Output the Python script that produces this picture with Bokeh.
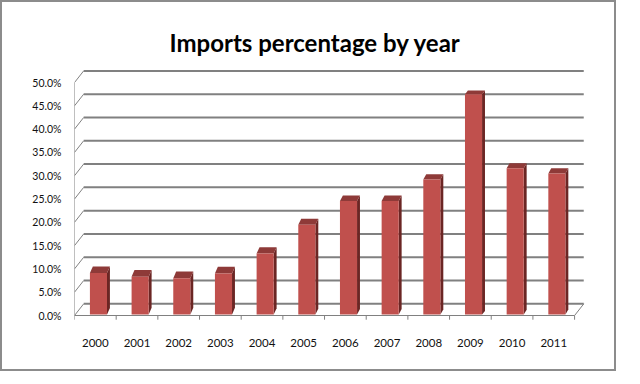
from bokeh.plotting import figure
from bokeh.models import FixedTicker, PrintfTickFormatter, Range1d
from bokeh.embed import file_html
from bokeh.resources import INLINE

# ---- data ----
years = ["2000", "2001", "2002", "2003", "2004", "2005",
         "2006", "2007", "2008", "2009", "2010", "2011"]
values = [8.9, 8.1, 7.8, 8.8, 13.1, 19.3, 24.4, 24.4, 29.0, 47.3, 31.4, 30.3]
y_ticks = [0, 5, 10, 15, 20, 25, 30, 35, 40, 45, 50]

# ---- 3D styling constants ----
DX, DY = 0.22, 2.5          # depth offset of back wall (x units, % units)
BAR_L, BAR_R = 0.37, 0.78   # bar front face within category
BAR_BASE = 0.2
SIDE_DX = 0.07
PX_PER_PCT = 4.66
N = len(years)

FRONT = "#C0504D"
TOP = "#8E3A38"
SIDE = "#6B2624"
GRID = "#808080"

p = figure(frame_width=518, frame_height=260,
           x_range=Range1d(0, 12.43), y_range=Range1d(-1.5, 54.3),
           output_backend="svg", toolbar_location=None,
           min_border_left=72, min_border_right=22,
           min_border_top=60, min_border_bottom=47)
p.outline_line_color = None
p.xgrid.visible = False
p.ygrid.visible = False
p.styles = {"border": "2px solid #8c8c8c"}

# back wall gridlines
p.segment(x0=[DX] * len(y_ticks), y0=[v + DY for v in y_ticks],
          x1=[N + DX] * len(y_ticks), y1=[v + DY for v in y_ticks],
          line_color=GRID, line_width=2)
# slanted connectors from front axis to wall
p.segment(x0=[0] * len(y_ticks), y0=y_ticks,
          x1=[DX] * len(y_ticks), y1=[v + DY for v in y_ticks],
          line_color=GRID, line_width=1)
# front vertical axis line
p.segment(x0=[0], y0=[0], x1=[0], y1=[max(y_ticks)], line_color=GRID, line_width=1)
# front floor edge and right slant
p.segment(x0=[0, N], y0=[0, 0], x1=[N, N + DX], y1=[0, DY], line_color=GRID, line_width=1)
# category ticks on front floor edge
cats = list(range(N + 1))
p.segment(x0=cats, y0=[0] * len(cats), x1=cats, y1=[-0.9] * len(cats),
          line_color=GRID, line_width=1)

# bars
lefts = [i + BAR_L for i in range(N)]
rights = [i + BAR_R for i in range(N)]
tops = [BAR_BASE + v for v in values]
top_h = [(6.7 - 3.0 * (v - 8.9) / 38.4) / PX_PER_PCT for v in values]

side_xs = [[r, r, r + SIDE_DX, r + SIDE_DX] for r in rights]
side_ys = [[BAR_BASE, t, t + h, BAR_BASE + h] for t, h in zip(tops, top_h)]
p.patches(side_xs, side_ys, fill_color=SIDE, line_color=None)

top_xs = [[l, r, r + SIDE_DX, l + SIDE_DX] for l, r in zip(lefts, rights)]
top_ys = [[t, t, t + h, t + h] for t, h in zip(tops, top_h)]
p.patches(top_xs, top_ys, fill_color=TOP, line_color=None)

p.quad(left=lefts, right=rights, bottom=[BAR_BASE] * N, top=tops,
       fill_color=FRONT, line_color=None)

# axes
p.yaxis.ticker = FixedTicker(ticks=y_ticks)
p.yaxis.formatter = PrintfTickFormatter(format="%.1f%%")
p.yaxis.axis_line_color = None
p.yaxis.major_tick_line_color = None
p.yaxis.minor_tick_line_color = None
p.yaxis.major_label_standoff = 7
p.yaxis.major_label_text_font = "Lato"
p.yaxis.major_label_text_font_size = "10.5px"
p.yaxis.major_label_text_color = "#111111"

centers = [i + 0.5 for i in range(N)]
p.xaxis.ticker = FixedTicker(ticks=centers)
p.xaxis.major_label_overrides = {c: y for c, y in zip(centers, years)}
p.xaxis.axis_line_color = None
p.xaxis.major_tick_line_color = None
p.xaxis.minor_tick_line_color = None
p.xaxis.major_label_standoff = 10
p.xaxis.major_label_text_font = "Lato"
p.xaxis.major_label_text_font_size = "11.5px"
p.xaxis.major_label_text_color = "#111111"

p.title.text = "Imports percentage  by year"
p.title.align = "left"
p.title.offset = 95
p.title.standoff = 11
p.title.text_font = "Lato"
p.title.text_font_size = "24px"
p.title.text_font_style = "bold"
p.title.text_color = "#000000"

open("out.html", "w").write(file_html(p, INLINE))
